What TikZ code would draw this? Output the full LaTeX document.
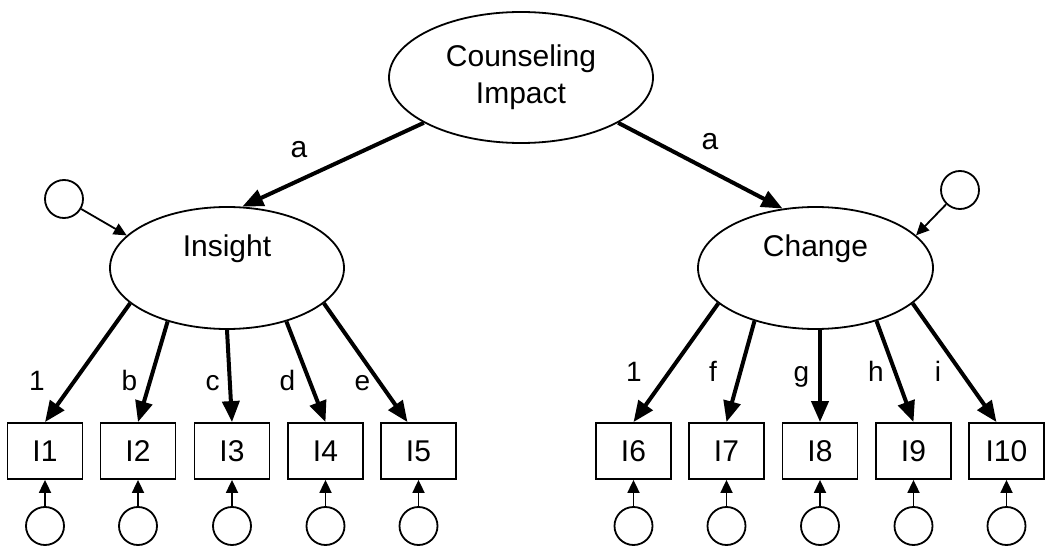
\documentclass[tikz,border=0pt]{standalone}
\usepackage{fontspec}
\setmainfont{Liberation Sans}
\usetikzlibrary{shapes.geometric,arrows.meta}

\begin{document}
\begin{tikzpicture}[x=1pt,y=-1pt,
    latent/.style={draw, ellipse, line width=1.8pt, inner sep=0pt, font=\fontsize{30}{37}\selectfont},
    item/.style={draw, rectangle, line width=1.8pt, minimum width=75pt, minimum height=56pt, inner sep=0pt, font=\fontsize{30}{34}\selectfont},
    err/.style={draw, circle, line width=1.8pt, minimum size=38pt, inner sep=0pt},
    load/.style={-{Triangle[length=21pt,width=17pt]}, line width=4pt},
    small/.style={-{Triangle[length=13pt,width=12pt]}, line width=1.8pt},
    coef/.style={font=\fontsize{28}{30}\selectfont, anchor=base},
    pathlab/.style={font=\fontsize{30}{34}\selectfont, anchor=base},
    factlab/.style={yshift=19pt, font=\fontsize{30}{34}\selectfont}]
    \useasboundingbox (0,0) rectangle (1050,548);

    % Second-order factor
    \node[latent, minimum width=264pt, minimum height=131pt, align=center] (imp) at (521,77.5) {Counseling\\Impact};

    % First-order factors
    \node[latent, minimum width=234pt, minimum height=122pt, label={[factlab]center:Insight}] (ins) at (227,268) {};
    \node[latent, minimum width=235pt, minimum height=122pt, label={[factlab]center:Change}] (chg) at (815.5,268) {};

    % Disturbances
    \node[err] (dins) at (64,199) {};
    \node[err] (dchg) at (960,190) {};
    \draw[small] (dins) -- (ins.162);
    \draw[small] (dchg) -- (chg.18);

    % Items and their errors
    \foreach \n/\x in {1/45,2/138,3/232,4/325.5,5/418.5,6/633.5,7/726.5,8/820,9/913.5,10/1006.5} {
        \node[item] (i\n) at (\x,451) {I\n};
        \node[err] (e\n) at (\x,526) {};
        \draw[small] (e\n) -- (i\n);
    }

    % Higher-order paths
    \draw[load] (imp.205) -- (ins.76);
    \draw[load] (imp.335) -- (chg.119);
    \node[pathlab] (pa1) at (299,158) {a};
    \node[pathlab] (pa2) at (710,150) {a};

    % Loadings on Insight
    \draw[load] (ins.200) -- (i1.north);
    \draw[load] (ins.222) -- (i2.north);
    \draw[load] (ins.270) -- (i3.north);
    \draw[load] (ins.318) -- (i4.north);
    \draw[load] (ins.340) -- ([xshift=-11pt]i5.north);

    % Loadings on Change
    \draw[load] (chg.200) -- (i6.north);
    \draw[load] (chg.221) -- (i7.north);
    \draw[load] (chg.south -| i8.north) -- (i8.north);
    \draw[load] (chg.319) -- (i9.north);
    \draw[load] (chg.340) -- ([xshift=-10pt]i10.north);

    % Loading labels
    \foreach \t/\x in {1/37,b/129.5,c/212.5,d/287.5,e/362.5}
        \node[coef] (l\t) at (\x,390) {\t};
    \foreach \t/\x in {1/634,f/713,g/801.5,h/876,i/938}
        \node[coef] (r\t) at (\x,381.5) {\t};
\end{tikzpicture}
\end{document}
